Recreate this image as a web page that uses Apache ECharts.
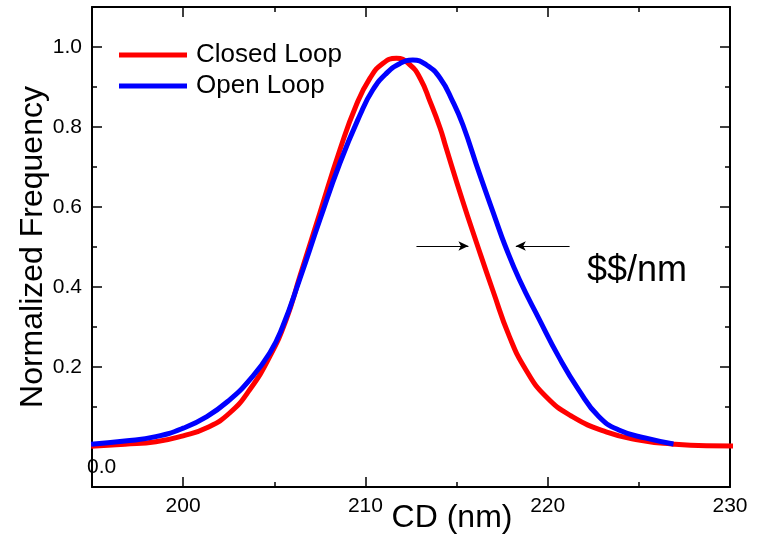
<!DOCTYPE html>
<html>
<head>
<meta charset="utf-8">
<script src="https://cdn.jsdelivr.net/npm/echarts@6/dist/echarts.min.js"></script>
<style>
  html, body { margin: 0; padding: 0; background: #ffffff; }
  #chart { width: 758px; height: 538px; }
</style>
</head>
<body>
<div id="chart"></div>
<script>
// CD distribution, closed loop (red)
const closedLoopCD = [194.95, 196.8, 198.5, 200, 201.3, 202.55, 203.65, 204.75, 205.65, 206.4,
  207.5, 208.6, 209.5, 210.25, 210.95, 211.7, 212.45, 213.0, 213.55, 214.1, 214.4, 215.3,
  216.1, 217.0, 217.9, 218.8, 219.9, 221.35, 223.2, 225.0, 226.8, 228.7, 230.5];
const closedLoopFreq = [0.002, 0.007, 0.013, 0.028, 0.048, 0.085, 0.143, 0.226, 0.318, 0.426,
  0.585, 0.743, 0.855, 0.922, 0.959, 0.972, 0.955, 0.922, 0.863, 0.797, 0.752, 0.62,
  0.51, 0.39, 0.276, 0.193, 0.126, 0.076, 0.038, 0.0175, 0.0075, 0.003, 0.0025];

// CD distribution, open loop (blue)
const openLoopCD = [194.95, 196.8, 198.5, 200, 201.3, 202.55, 203.65, 204.75, 205.45, 206.4,
  207.5, 208.6, 209.7, 210.4, 211.15, 211.9, 212.6, 213.35, 214.1, 214.8, 215.35, 216.25,
  217.15, 217.65, 218.45, 219.55, 220.6, 221.7, 222.8, 223.9, 225.4, 226.9];
const openLoopFreq = [0.007, 0.015, 0.026, 0.047, 0.076, 0.118, 0.168, 0.235, 0.30, 0.42,
  0.568, 0.71, 0.83, 0.8925, 0.934, 0.959, 0.9675, 0.955, 0.922, 0.863, 0.805, 0.684,
  0.568, 0.505, 0.418, 0.318, 0.226, 0.143, 0.076, 0.0425, 0.022, 0.0075];

// Axis ticks and labels
const xMajorTicks = [200, 210, 220, 230];
const xMinorTicks = [205, 215, 225];
const yLabelTicks = [0.2, 0.4, 0.6, 0.8, 1.0];
const yMajorTicks = [0.0, 0.2, 0.4, 0.6, 0.8, 1.0];
const yMinorTicks = [0.1, 0.3, 0.5, 0.7, 0.9];

// Width-difference arrows at half height: [from, to] in CD / frequency units
const widthArrows = [
  [[212.8, 0.5025], [215.65, 0.5025]],
  [[221.2, 0.5025], [218.25, 0.5025]]
];

const FONT = '"Liberation Sans", Arial, sans-serif';
const X_RANGE = { min: 195, max: 230 };
const Y_RANGE = { min: -0.1, max: 1.1 };

const toPairs = (xs, ys) => xs.map((x, i) => [x, ys[i]]);

function xAxisDef(position, ticks, len, withLine, withLabels) {
  return {
    type: 'value', position: position, gridIndex: 0,
    min: X_RANGE.min, max: X_RANGE.max,
    axisLine: { show: withLine, onZero: false, lineStyle: { color: '#000', width: 2 } },
    axisTick: { show: true, inside: true, length: len, customValues: ticks,
      lineStyle: { color: '#000', width: 1.5 } },
    axisLabel: { show: withLabels, customValues: ticks, color: '#000',
      fontFamily: FONT, fontSize: 21, margin: 9 },
    splitLine: { show: false }
  };
}

function yAxisDef(position, ticks, len, withLine, withLabels) {
  return {
    type: 'value', position: position, gridIndex: 0,
    min: Y_RANGE.min, max: Y_RANGE.max,
    axisLine: { show: withLine, onZero: false, lineStyle: { color: '#000', width: 2 } },
    axisTick: { show: true, inside: true, length: len, customValues: ticks,
      lineStyle: { color: '#000', width: 1.5 } },
    axisLabel: { show: withLabels, customValues: yLabelTicks, color: '#000',
      fontFamily: FONT, fontSize: 21, margin: 10,
      formatter: v => v.toFixed(1) },
    splitLine: { show: false }
  };
}

const xMain = xAxisDef('bottom', xMajorTicks, 10, true, true);
xMain.name = 'CD (nm)';
xMain.nameLocation = 'middle';
xMain.nameGap = 15;
xMain.nameMoveOverlap = false;
xMain.nameTextStyle = { color: '#000', fontFamily: FONT, fontSize: 32, padding: [0, 0, 0, 82] };

const yMain = yAxisDef('left', yMajorTicks, 10, true, true);
yMain.name = 'Normalized Frequency';
yMain.nameLocation = 'middle';
yMain.nameGap = 43;
yMain.nameMoveOverlap = false;
yMain.nameTextStyle = { color: '#000', fontFamily: FONT, fontSize: 32 };

const chart = echarts.init(document.getElementById('chart'), null, { renderer: 'canvas' });

chart.setOption({
  animation: false,
  backgroundColor: '#ffffff',
  grid: { left: 92, right: 28, top: 7, bottom: 51, containLabel: false, outerBoundsMode: 'none' },
  xAxis: [
    xMain,
    xAxisDef('bottom', xMinorTicks, 5, false, false),
    xAxisDef('top', xMajorTicks, 10, true, false),
    xAxisDef('top', xMinorTicks, 5, false, false)
  ],
  yAxis: [
    yMain,
    yAxisDef('left', yMinorTicks, 5, false, false),
    yAxisDef('right', yMajorTicks, 10, true, false),
    yAxisDef('right', yMinorTicks, 5, false, false)
  ],
  legend: {
    data: ['Closed Loop', 'Open Loop'],
    orient: 'vertical',
    left: 119, top: 42, padding: 0,
    icon: 'rect',
    itemWidth: 68, itemHeight: 5, itemGap: 5,
    selectedMode: false,
    textStyle: { color: '#000', fontFamily: FONT, fontSize: 26, lineHeight: 26,
      padding: [0, 0, 0, 4] }
  },
  series: [
    {
      name: 'Closed Loop', type: 'line', xAxisIndex: 0, yAxisIndex: 0,
      data: toPairs(closedLoopCD, closedLoopFreq),
      smooth: 0.5, showSymbol: false, symbol: 'none', clip: false,
      lineStyle: { color: '#ff0000', width: 5 },
      itemStyle: { color: '#ff0000' },
      markLine: {
        silent: true, animation: false,
        symbol: ['none', 'arrow'], symbolSize: [7, 10],
        lineStyle: { color: '#000', width: 1, type: 'solid' },
        label: { show: false },
        emphasis: { disabled: true },
        data: widthArrows.map(([a, b]) => [{ coord: a }, { coord: b }])
      }
    },
    {
      name: 'Open Loop', type: 'line', xAxisIndex: 0, yAxisIndex: 0,
      data: toPairs(openLoopCD, openLoopFreq),
      smooth: 0.5, showSymbol: false, symbol: 'none', clip: false,
      lineStyle: { color: '#0000ff', width: 5 },
      itemStyle: { color: '#0000ff' }
    }
  ],
  graphic: [
    { type: 'text', left: 87, top: 457,
      style: { text: '0.0', fill: '#000', font: '21px ' + FONT } },
    { type: 'text', left: 587, top: 253,
      style: { text: '$$/nm', fill: '#000', font: '36px ' + FONT } }
  ]
});
</script>
</body>
</html>
